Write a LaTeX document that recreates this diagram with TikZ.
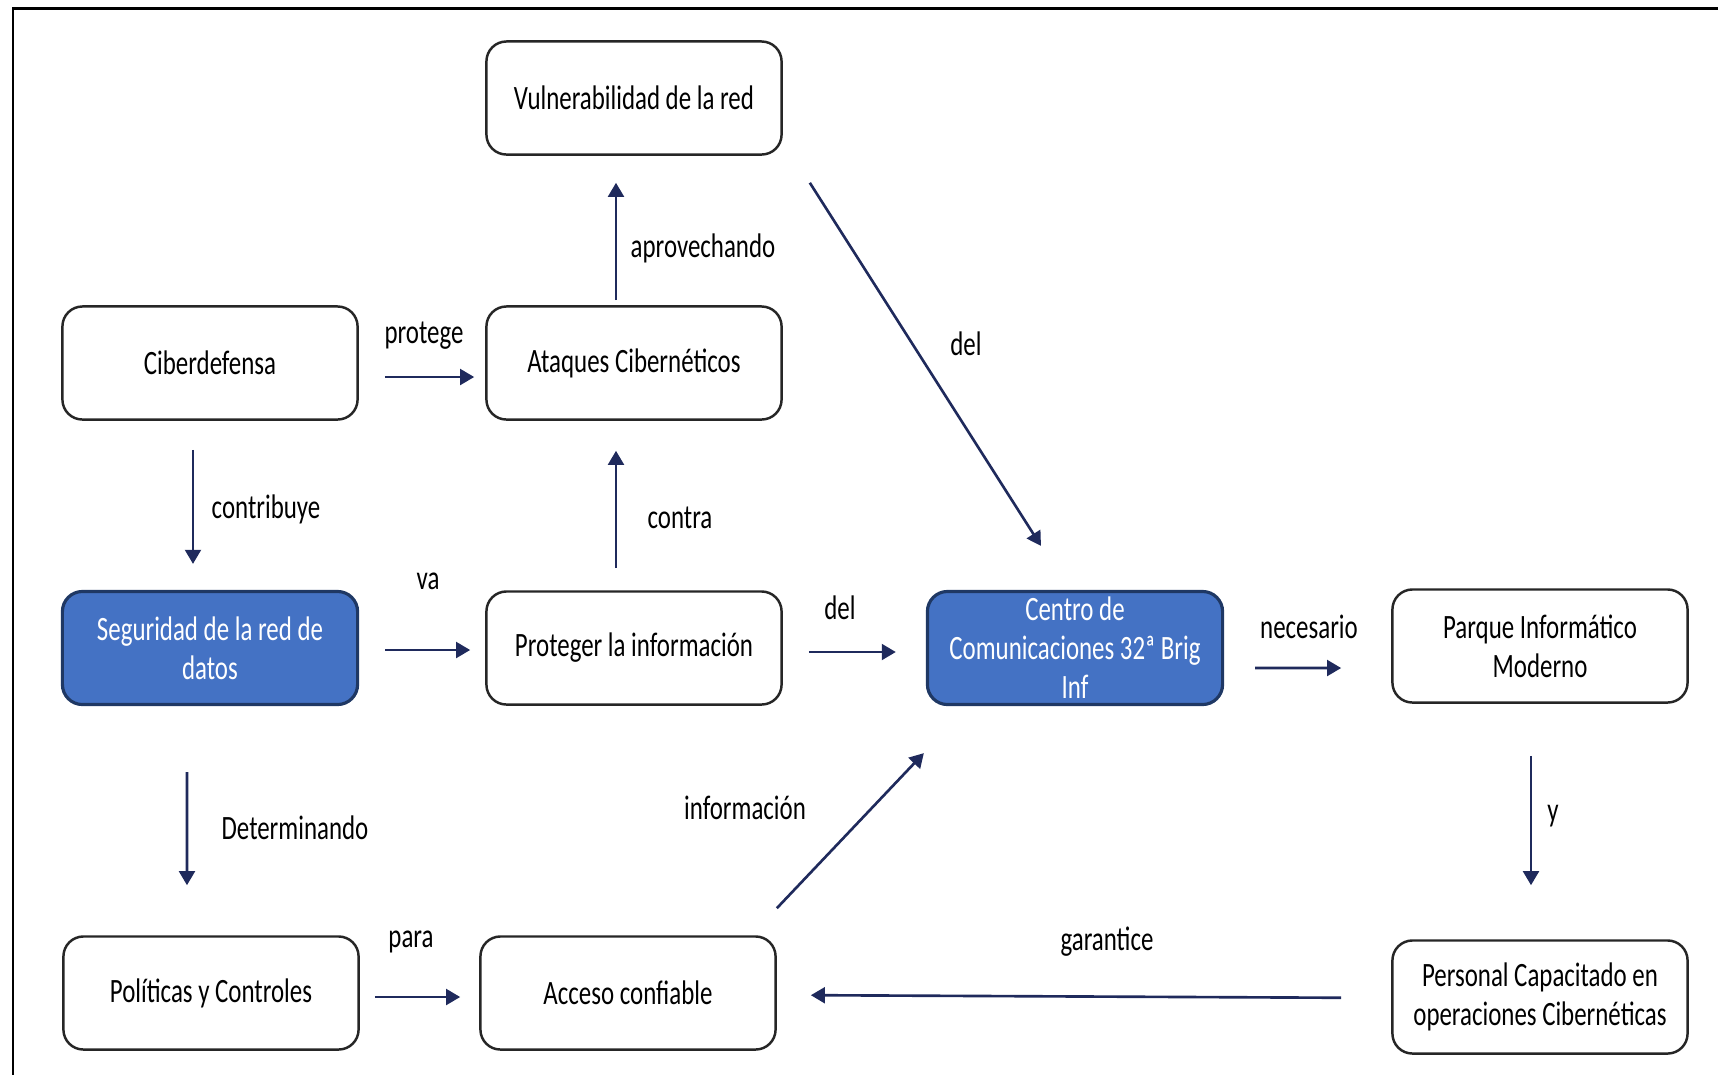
\documentclass[tikz,border=0pt]{standalone}
\usepackage{fontspec}
\setmainfont{Carlito}[FakeStretch=0.73]
\usetikzlibrary{arrows.meta}
\definecolor{boxblue}{HTML}{4472C4}
\definecolor{boxedge}{HTML}{1F3864}
\definecolor{arrownavy}{HTML}{1F2A5C}

\begin{document}
\begin{tikzpicture}[x=0.01cm, y=-0.01cm,
        box/.style={draw=black!85, line width=0.7pt, rounded corners=0.2cm, minimum width=2.95cm, minimum height=1.13cm, align=center, inner sep=0pt, font=\fontsize{9.7}{11.1}\selectfont},
        bluebox/.style={box, draw=boxedge, line width=0.9pt, fill=boxblue, text=white},
        lbl/.style={inner sep=0pt, font=\fontsize{9.7}{11.1}\selectfont},
        conn/.style={draw=arrownavy, line width=0.75pt, -{Triangle[length=4pt, width=4.5pt]}}]
        \useasboundingbox (0,0) rectangle (1718,1075);
        \draw[line width=0.85pt] (1718,8) -- (13,8) -- (13,1075);

        \node[box] (A) at (634,98) {Vulnerabilidad de la red};
        \node[box] (B) at (210,363) {Ciberdefensa};
        \node[box] (C) at (634,363) {Ataques Cibernéticos};
        \node[bluebox] (D) at (210,648) {Seguridad de la red de\\datos};
        \node[box] (E) at (634,648) {Proteger la información};
        \node[bluebox] (F) at (1075,648) {Centro de\\Comunicaciones 32ª Brig\\Inf};
        \node[box] (G) at (1540,646) {Parque Informático\\Moderno};
        \node[box] (H) at (211,993) {Políticas y Controles};
        \node[box] (I) at (628,993) {Acceso confiable};
        \node[box] (J) at (1540,997) {Personal Capacitado en\\operaciones Cibernéticas};

        \node[lbl] (L1) at (424,336) {protege};
        \node[lbl] (L2) at (703,248) {aprovechando};
        \node[lbl] (L3) at (266,509) {contribuye};
        \node[lbl] (L4) at (428,581) {va};
        \node[lbl] (L5) at (680,518) {contra};
        \node[lbl] (L6) at (840,608) {del};
        \node[lbl] (L7) at (966,344) {del};
        \node[lbl] (L8) at (1309,627) {necesario};
        \node[lbl] (L9) at (1553,816) {y};
        \node[lbl] (L10) at (295,828) {Determinando};
        \node[lbl] (L11) at (411,942) {para};
        \node[lbl] (L12) at (745,808) {información};
        \node[lbl] (L13) at (1107,942) {garantice};

        \draw[conn, shorten <=0.26cm, shorten >=0.11cm] ([yshift=-0.14cm]B.east) -- ([yshift=-0.14cm]C.west);
        \draw[conn, shorten <=0.05cm, shorten >=0.27cm] ([xshift=-0.18cm]C.north) -- ([xshift=-0.18cm]A.south);
        \draw[conn, shorten <=0.22cm, shorten >=0.30cm] ([xshift=-0.18cm]E.north) -- ([xshift=-0.18cm]C.south);
        \draw[conn, shorten <=0.29cm, shorten >=0.26cm] ([xshift=-0.17cm]B.south) -- ([xshift=-0.17cm]D.north);
        \draw[conn, shorten <=0.26cm, shorten >=0.15cm] ([yshift=-0.02cm]D.east) -- ([yshift=-0.02cm]E.west);
        \draw[conn, shorten <=0.26cm, shorten >=0.30cm] ([yshift=-0.04cm]E.east) -- ([yshift=-0.04cm]F.west);
        \draw[conn, shorten <=0.31cm, shorten >=0.50cm] ([yshift=-0.20cm]F.east) -- ([yshift=-0.22cm]G.west);
        \draw[conn, shorten <=0.52cm, shorten >=0.54cm] ([xshift=-0.09cm]G.south) -- ([xshift=-0.09cm]J.north);
        \draw[conn, shorten <=0.66cm, shorten >=0.50cm] ([xshift=-0.23cm]D.south) -- ([xshift=-0.24cm]H.north);
        \draw[conn, shorten <=0.15cm, shorten >=0.19cm] ([yshift=-0.04cm]H.east) -- ([yshift=-0.04cm]I.west);
        \draw[conn, shorten <=0.50cm, shorten >=0.34cm] ([yshift=-0.01cm]J.west) -- ([yshift=-0.02cm]I.east);
        \draw[conn] ([yshift=0.27cm]I.north east) -- ([xshift=-0.02cm, yshift=-0.47cm]F.south west);
        \draw[conn] ([xshift=0.27cm, yshift=-0.27cm]A.south east) -- ([xshift=-0.34cm, yshift=0.44cm]F.north);
    \end{tikzpicture}
\end{document}
